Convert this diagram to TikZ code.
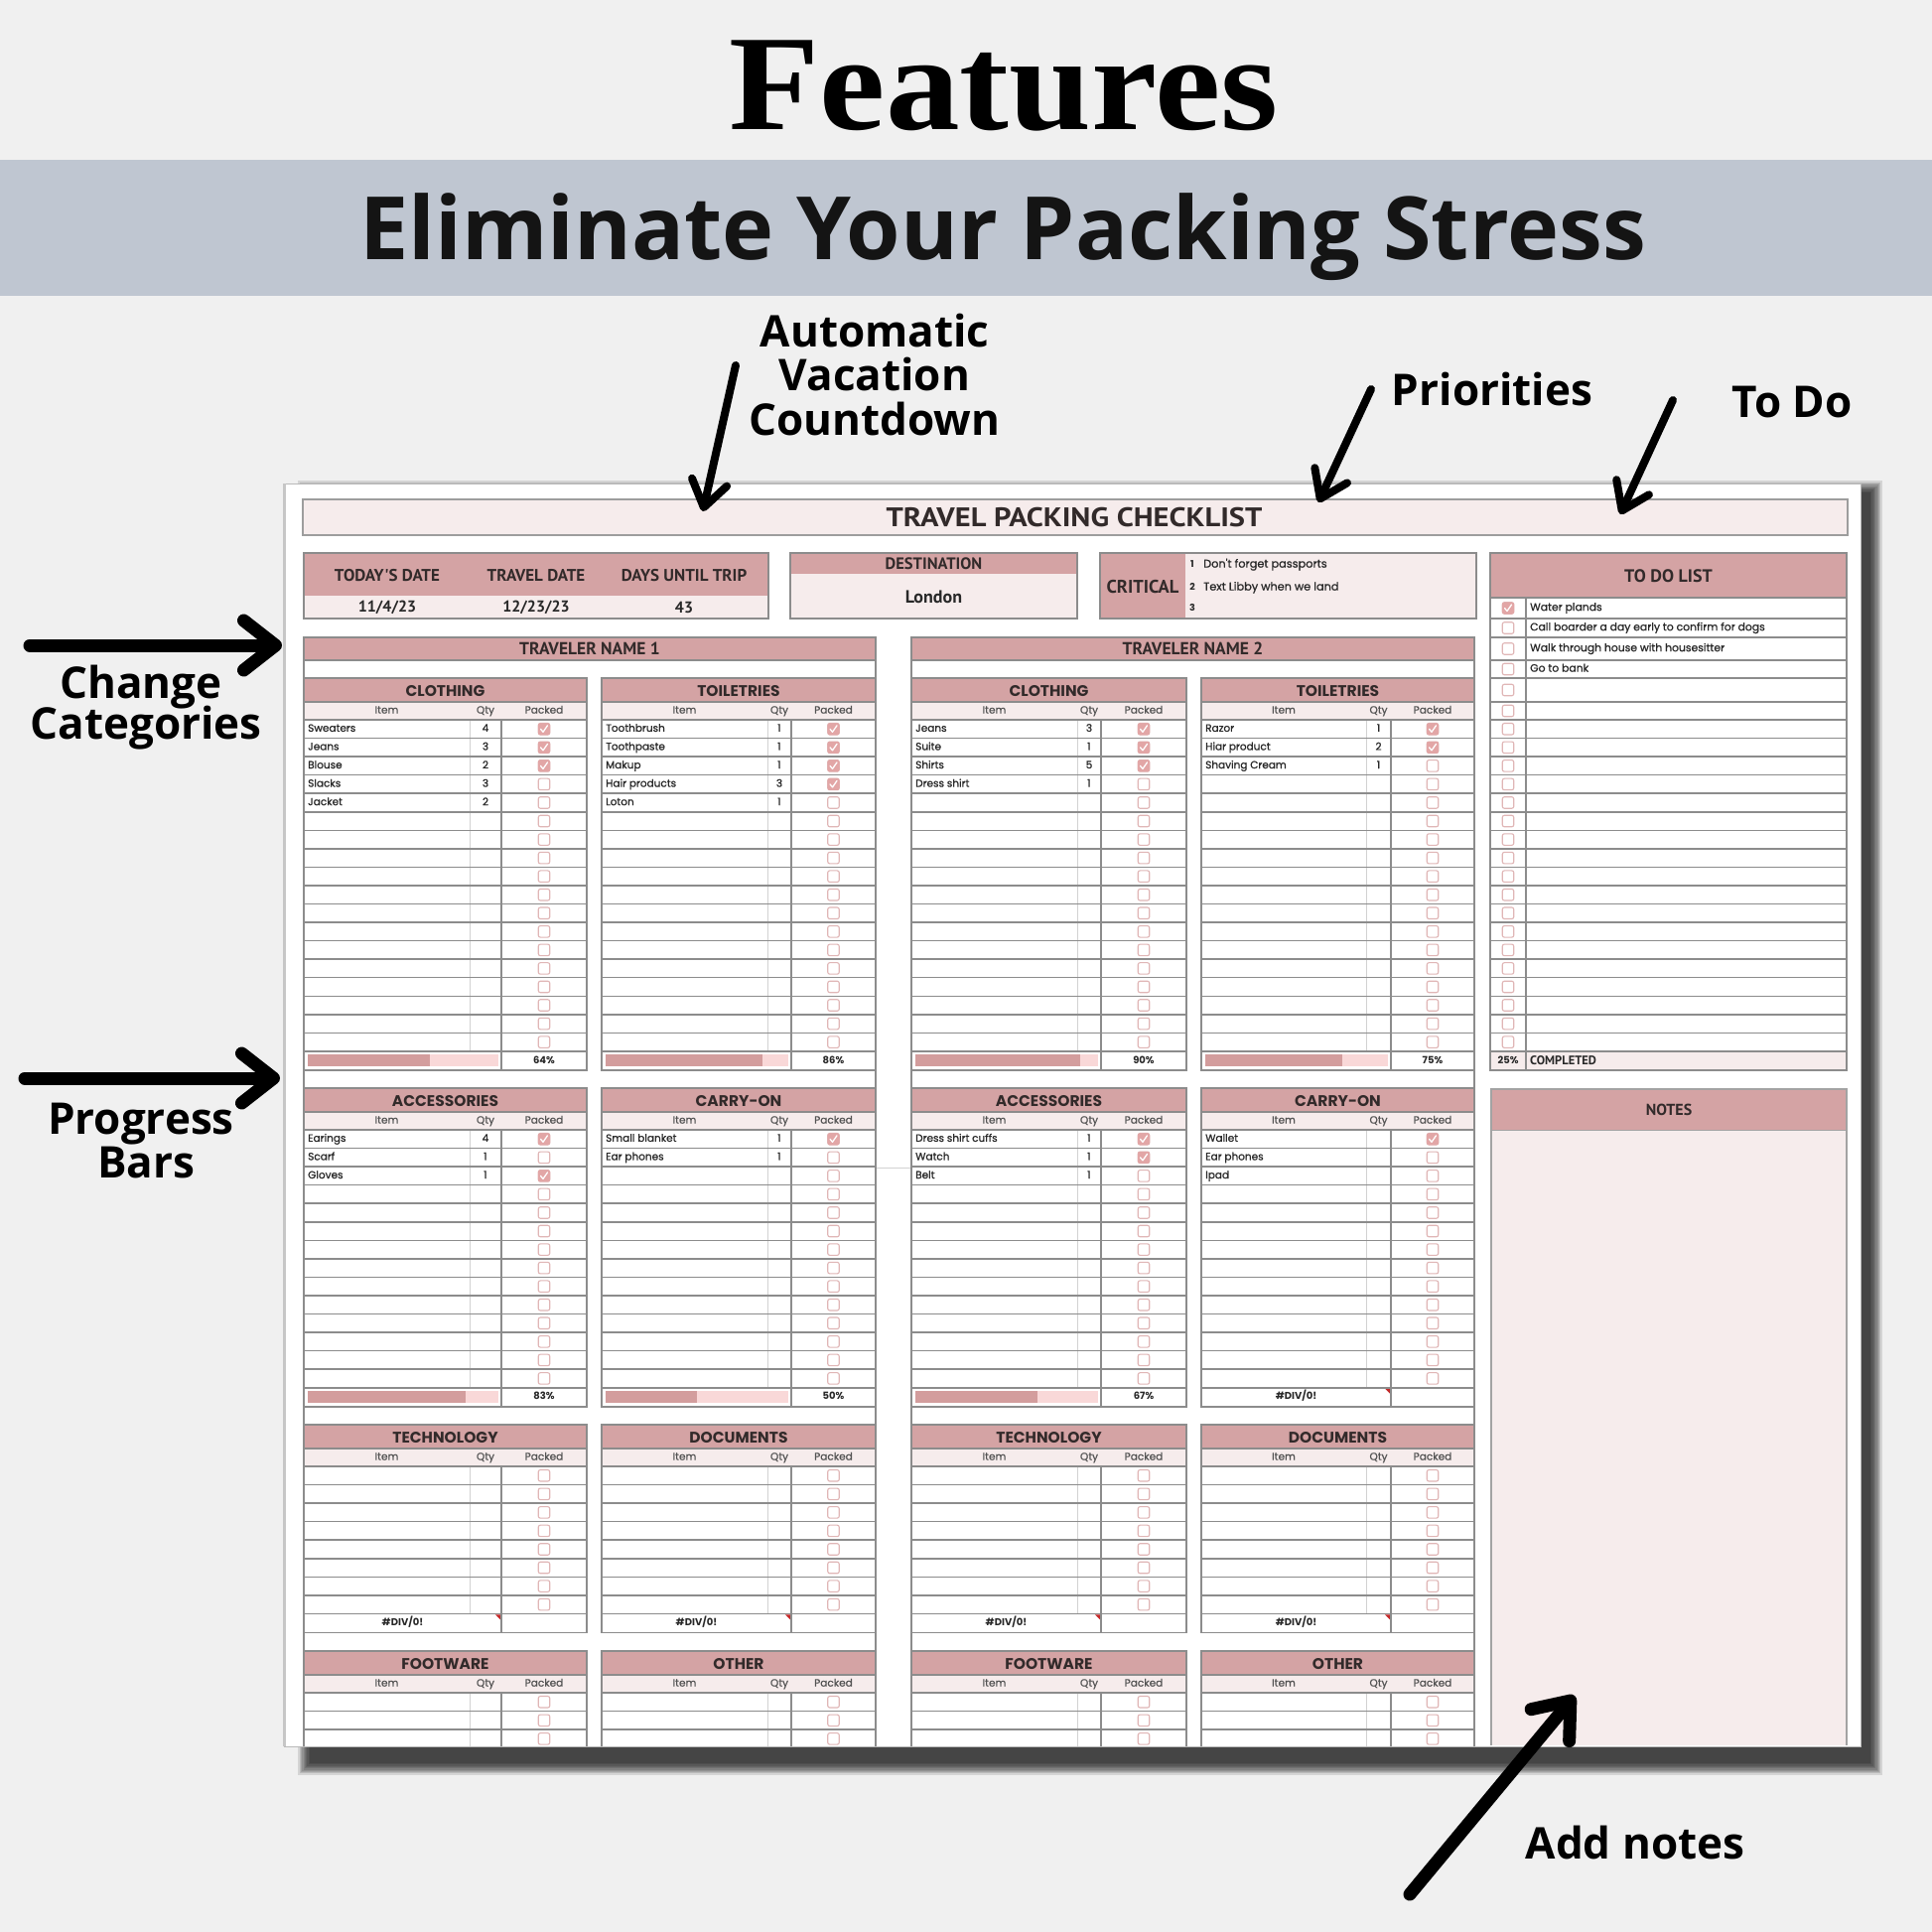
\documentclass[tikz,border=0pt]{standalone}
\usepackage{fontspec}
\usetikzlibrary{arrows.meta}
\newfontfamily\popf{Poppins}
\newfontfamily\popd[FakeBold=0.8]{Poppins}
\newfontfamily\ptf{PT Sans}
\newfontfamily\osf{Open Sans}
\newfontfamily\serf{Liberation Serif}
\newcommand{\myfs}[1]{\fontsize{#1}{#1}\selectfont}
\definecolor{bgc}{RGB}{240,240,240}
\definecolor{bandc}{RGB}{191,198,209}
\definecolor{hdrpink}{RGB}{212,163,164}
\definecolor{ltpink}{RGB}{246,236,236}
\definecolor{barbg}{RGB}{249,216,216}
\definecolor{barfg}{RGB}{211,157,157}
\definecolor{gridc}{RGB}{140,140,140}
\definecolor{gridl}{RGB}{210,210,210}
\definecolor{cbc}{RGB}{224,182,182}
\definecolor{cbfill}{RGB}{226,166,166}
\definecolor{txtc}{RGB}{40,40,40}
\definecolor{hdrtxt}{RGB}{50,42,42}
\definecolor{redc}{RGB}{196,40,40}

\tikzset{
  cathead/.style={font=\popf\bfseries\myfs{15.5}, text=hdrtxt, inner sep=0pt, text height=11pt, text depth=0pt},
  colhead/.style={font=\popd\myfs{10.5}, text=txtc!80, inner sep=0pt, text height=7.5pt, text depth=2.2pt},
  itemtxt/.style={font=\popd\myfs{10.5}, text=txtc, inner sep=0pt, anchor=west, text height=7.5pt, text depth=2.2pt},
  qtytxt/.style={font=\popd\myfs{10.5}, text=txtc, inner sep=0pt, text height=7.5pt, text depth=2.2pt},
  pcttxt/.style={font=\popf\bfseries\myfs{10}, text=txtc, inner sep=0pt, text height=7.5pt, text depth=2.2pt},
  latb/.style={font=\ptf\bfseries\myfs{#1}, text=hdrtxt, inner sep=0pt},
  smalltxt/.style={font=\popd\myfs{10.8}, text=txtc, inner sep=0pt, anchor=west, text height=7.5pt, text depth=2.2pt},
  cbox/.style={draw=cbc, line width=1.1pt, rounded corners=2pt, minimum width=11.5pt, minimum height=11.5pt, inner sep=0pt, fill=white},
  rowline/.style={draw=gridc, line width=1.5pt},
  tabborder/.style={draw=gridc, line width=1.6pt},
  ann/.style={font=\osf\bfseries\myfs{44}, anchor=base, inner sep=0pt, text=black},
  toparrow/.style={line width=8pt, line cap=round, -{Straight Barb[round, length=26pt, width=36pt]}},
  bigarrow/.style={line width=13pt, line cap=round, -{Straight Barb[round, length=32pt, width=50pt]}},
}

% checked box
\newcommand{\chk}[2]{%
  \fill[cbfill, rounded corners=2pt] ({#1-6},{#2-6}) rectangle ({#1+6},{#2+6});
  \draw[white, line width=1.3pt, line cap=round, line join=round] ({#1-3.5},{#2}) -- ({#1-1},{#2+3}) -- ({#1+3.5},{#2-3.5});
}
% \cattab{name}{L}{Q}{P}{R}{top}{title}{nrows}
\newcommand{\cattab}[8]{%
  \pgfmathsetmacro{\yh}{#6+24}%
  \pgfmathsetmacro{\yc}{#6+42}%
  \pgfmathsetmacro{\yr}{#6+42+#8*18.55}%
  \fill[white] (#2,#6) rectangle (#5,\yr);
  \fill[hdrpink] (#2,#6) rectangle (#5,\yh);
  \fill[ltpink] (#2,\yh) rectangle (#5,\yc);
  \node[cathead] (#1-t) at ({(#2+#5)/2},{#6+12.5}) {#7};
  \node[colhead] (#1-ci) at ({(#2+#3)/2},{#6+33}) {Item};
  \node[colhead] (#1-cq) at ({(#3+#4)/2},{#6+33}) {Qty};
  \node[colhead] (#1-cp) at ({(#4+#5)/2},{#6+33}) {Packed};
  \draw[gridl, line width=0.9pt] (#3,\yc) -- (#3,\yr);
  \draw[gridc, line width=1.1pt] (#4,\yc) -- (#4,\yr);
  \draw[rowline] (#2,\yh) -- (#5,\yh);
  \foreach \k in {0,...,#8} {\draw[rowline] (#2,{\yc+\k*18.55}) -- (#5,{\yc+\k*18.55});}
  \foreach \k in {1,...,#8} {\node[cbox] (#1-b\k) at ({(#4+#5)/2},{\yc+(\k-0.5)*18.55}) {};}
  \draw[tabborder] (#2,#6) rectangle (#5,\yr);
}
% \tabdata{name}{L}{Q}{P}{R}{top}{data}
\newcommand{\tabdata}[7]{%
  \pgfmathsetmacro{\yc}{#6+42}%
  \foreach \itm/\qq/\ck [count=\k] in {#7} {
    \node[itemtxt] (#1-i\k) at ({#2+4},{\yc+(\k-0.5)*18.55}) {\itm};
    \node[qtytxt] (#1-q\k) at ({(#3+#4)/2},{\yc+(\k-0.5)*18.55}) {\qq};
    \ifnum\ck=1 \chk{(#4+#5)/2}{\yc+(\k-0.5)*18.55}\fi
  }
}
% \progfoot{name}{L}{P}{R}{y}{pct}
\newcommand{\progfoot}[6]{%
  \fill[white] (#2,#5) rectangle (#4,{#5+19});
  \fill[barbg] ({#2+4},{#5+3.5}) rectangle ({#3-3},{#5+15.5});
  \fill[barfg] ({#2+4},{#5+3.5}) rectangle ({#2+4+#6/100*(#3-3-#2-4)},{#5+15.5});
  \draw[gridc, line width=1.1pt] (#3,#5) -- (#3,{#5+19});
  \node[pcttxt] (#1) at ({(#3+#4)/2},{#5+9.5}) {#6\%};
  \draw[tabborder] (#2,#5) rectangle (#4,{#5+19});
}
% \divfoot{name}{L}{P}{R}{y}
\newcommand{\divfoot}[5]{%
  \fill[white] (#2,#5) rectangle (#4,{#5+19});
  \node[pcttxt] (#1) at ({(#2+#3)/2},{#5+9.5}) {\#DIV/0!};
  \fill[redc] ({#3-6},{#5+1}) -- ({#3-1},{#5+1}) -- ({#3-1},{#5+6}) -- cycle;
  \draw[gridc, line width=1.1pt] (#3,#5) -- (#3,{#5+19});
  \draw[tabborder] (#2,#5) rectangle (#4,{#5+19});
}

\begin{document}
\begin{tikzpicture}[x=1pt,y=-1pt]
\useasboundingbox (0,0) rectangle (1946,1946);
\fill[bgc] (0,0) rectangle (1946,1946);
\fill[bandc] (0,161) rectangle (1946,298);

\node[font=\serf\bfseries\myfs{137}, anchor=base, inner sep=0pt] (feat) at (1011,130) {\scalebox{1.09}[1]{Features}};
\node[font=\osf\bfseries\myfs{88}, anchor=base, inner sep=0pt, text=black!92] (sub) at (1010,261) {Eliminate Your Packing Stress};

% shadow
\foreach \i in {0,...,9} {
  \fill[black, opacity=0.115] ({312-\i*1.3},{496-\i*1.3}) rectangle ({1884+\i*1.3},{1776+\i*1.3});
}
% paper
\fill[white] (286,487) rectangle (1874,1759);
\draw[gray!55, line width=1pt] (286,487) rectangle (1874,1759);
\draw[gray!45, line width=3pt] (286,487) -- (286,1759);

% title bar
\fill[ltpink] (305,503) rectangle (1861,539);
\draw[gridc!85, line width=1.5pt] (305,503) rectangle (1861,539);
\node[latb=27] (title) at (1082,521) {\scalebox{1.13}[1]{TRAVEL PACKING CHECKLIST}};

% dates box
\fill[hdrpink] (306,557) rectangle (774,600);
\fill[ltpink] (306,600) rectangle (774,623);
\draw[tabborder] (306,557) rectangle (774,623);
\node[latb=17] (td) at (390,580) {TODAY'S DATE};
\node[latb=17] (tv) at (540,580) {TRAVEL DATE};
\node[latb=17] (du) at (689,580) {DAYS UNTIL TRIP};
\node[latb=16, text=txtc] (tdv) at (390,612) {11/4/23};
\node[latb=16, text=txtc] (tvv) at (540,612) {12/23/23};
\node[latb=16, text=txtc] (duv) at (689,612) {43};

% destination
\fill[ltpink] (796,557) rectangle (1085,623);
\fill[hdrpink] (796,557) rectangle (1085,578);
\draw[tabborder] (796,557) rectangle (1085,623);
\node[latb=16.5] (dest) at (940.5,567.5) {DESTINATION};
\node[latb=18, text=txtc] (lon) at (940.5,601) {London};

% critical
\fill[ltpink] (1108,557) rectangle (1487,623);
\fill[hdrpink] (1108,557) rectangle (1194,623);
\draw[tabborder] (1108,557) rectangle (1487,623);
\node[latb=18.5] (crit) at (1151,591) {CRITICAL};
\node[font=\popf\bfseries\myfs{9.5}, text=txtc, inner sep=0pt] (c1n) at (1201,568) {1};
\node[font=\popf\bfseries\myfs{9.5}, text=txtc, inner sep=0pt] (c2n) at (1201,591) {2};
\node[font=\popf\bfseries\myfs{9.5}, text=txtc, inner sep=0pt] (c3n) at (1201,612) {3};
\node[smalltxt, font=\popd\myfs{11.3}] (c1) at (1212,569) {Don't forget passports};
\node[smalltxt, font=\popd\myfs{11.3}] (c2) at (1212,592) {Text Libby when we land};

% traveler panels
\fill[hdrpink] (306,642) rectangle (882,665);
\draw[tabborder] (306,1758) -- (306,642) -- (882,642) -- (882,1758);
\draw[rowline] (306,665) -- (882,665);
\node[latb=17.5] (tn1) at (594,653.5) {TRAVELER NAME 1};
\fill[hdrpink] (918,642) rectangle (1485,665);
\draw[tabborder] (918,1758) -- (918,642) -- (1485,642) -- (1485,1758);
\draw[rowline] (918,665) -- (1485,665);
\node[latb=17.5] (tn2) at (1201.5,653.5) {TRAVELER NAME 2};
\draw[gridl, line width=0.8pt] (882,1176) -- (918,1176);

% block 1
\cattab{aa}{306}{473}{505}{591}{683}{CLOTHING}{18}
\tabdata{aa}{306}{473}{505}{591}{683}{Sweaters/4/1,Jeans/3/1,Blouse/2/1,Slacks/3/0,Jacket/2/0}
\progfoot{aaf}{306}{505}{591}{1058.9}{64}
\cattab{ab}{606}{773}{797}{882}{683}{TOILETRIES}{18}
\tabdata{ab}{606}{773}{797}{882}{683}{Toothbrush/1/1,Toothpaste/1/1,Makup/1/1,Hair products/3/1,Loton/1/0}
\progfoot{abf}{606}{797}{882}{1058.9}{86}
\cattab{ac}{918}{1085}{1109}{1195}{683}{CLOTHING}{18}
\tabdata{ac}{918}{1085}{1109}{1195}{683}{Jeans/3/1,Suite/1/1,Shirts/5/1,Dress shirt/1/0}
\progfoot{acf}{918}{1109}{1195}{1058.9}{90}
\cattab{ad}{1210}{1376}{1401}{1485}{683}{TOILETRIES}{18}
\tabdata{ad}{1210}{1376}{1401}{1485}{683}{Razor/1/1,Hiar product/2/1,Shaving Cream/1/0}
\progfoot{adf}{1210}{1401}{1485}{1058.9}{75}

% block 2
\cattab{ba}{306}{473}{505}{591}{1096}{ACCESSORIES}{14}
\tabdata{ba}{306}{473}{505}{591}{1096}{Earings/4/1,Scarf/1/0,Gloves/1/1}
\progfoot{baf}{306}{505}{591}{1397.7}{83}
\cattab{bb}{606}{773}{797}{882}{1096}{CARRY-ON}{14}
\tabdata{bb}{606}{773}{797}{882}{1096}{Small blanket/1/1,Ear phones/1/0}
\progfoot{bbf}{606}{797}{882}{1397.7}{50}
\cattab{bc}{918}{1085}{1109}{1195}{1096}{ACCESSORIES}{14}
\tabdata{bc}{918}{1085}{1109}{1195}{1096}{Dress shirt cuffs/1/1,Watch/1/1,Belt/1/0}
\progfoot{bcf}{918}{1109}{1195}{1397.7}{67}
\cattab{bd}{1210}{1376}{1401}{1485}{1096}{CARRY-ON}{14}
\tabdata{bd}{1210}{1376}{1401}{1485}{1096}{Wallet/{}/1,Ear phones/{}/0,Ipad/{}/0}
\divfoot{bdf}{1210}{1401}{1485}{1397.7}

% block 3
\cattab{ca}{306}{473}{505}{591}{1435}{TECHNOLOGY}{8}
\divfoot{caf}{306}{505}{591}{1625.4}
\cattab{cb}{606}{773}{797}{882}{1435}{DOCUMENTS}{8}
\divfoot{cbf}{606}{797}{882}{1625.4}
\cattab{cc}{918}{1085}{1109}{1195}{1435}{TECHNOLOGY}{8}
\divfoot{ccf}{918}{1109}{1195}{1625.4}
\cattab{cd}{1210}{1376}{1401}{1485}{1435}{DOCUMENTS}{8}
\divfoot{cdf}{1210}{1401}{1485}{1625.4}

% block 4 (cut by the page edge)
\begin{scope}
\clip (280,1600) rectangle (1880,1758);
\cattab{da}{306}{473}{505}{591}{1663}{FOOTWARE}{3}
\cattab{db}{606}{773}{797}{882}{1663}{OTHER}{3}
\cattab{dc}{918}{1085}{1109}{1195}{1663}{FOOTWARE}{3}
\cattab{dd}{1210}{1376}{1401}{1485}{1663}{OTHER}{3}
\end{scope}

% to do list
\fill[white] (1501,557) rectangle (1860,1078);
\fill[hdrpink] (1501,557) rectangle (1860,602);
\fill[ltpink] (1501,1059) rectangle (1860,1078);
\node[latb=18] (todoh) at (1680.5,580) {TO DO LIST};
\foreach \y in {602,623,642,665,683,707,725} {\draw[rowline] (1501,\y) -- (1860,\y);}
\foreach \k in {1,...,18} {\draw[rowline] (1501,{725+\k*18.55}) -- (1860,{725+\k*18.55});}
\draw[gridc, line width=1.1pt] (1537,602) -- (1537,1078);
\foreach \y [count=\n] in {612.5,632.5,653.5,674,695,716} {\node[cbox] (tda\n) at (1519,\y) {};}
\foreach \k in {1,...,18} {\node[cbox] (tdb\k) at (1519,{725+(\k-0.5)*18.55}) {};}
\chk{1519}{612.5}
\node[smalltxt] (t1) at (1541,612.5) {Water plands};
\node[smalltxt] (t2) at (1541,632.5) {Call boarder a day early to confirm for dogs};
\node[smalltxt] (t3) at (1541,653.5) {Walk through house with housesitter};
\node[smalltxt] (t4) at (1541,674) {Go to bank};
\node[pcttxt] (pc) at (1519,1068.5) {25\%};
\node[font=\ptf\bfseries\myfs{12.5}, text=txtc, inner sep=0pt, anchor=west] (comp) at (1541,1068.5) {COMPLETED};
\draw[tabborder] (1501,557) rectangle (1860,1078);

% notes
\fill[ltpink] (1502,1097) rectangle (1860,1758);
\fill[hdrpink] (1502,1097) rectangle (1860,1138);
\node[latb=16] (notes) at (1681,1118) {NOTES};
\draw[gridc!80, line width=1.3pt] (1502,1758) -- (1502,1097) -- (1860,1097) -- (1860,1758);
\draw[gridc!80, line width=1pt] (1502,1138) -- (1860,1138);

% annotations
\node[ann] (a1a) at (881,349) {Automatic};
\node[ann] (a1b) at (881,393) {Vacation};
\node[ann] (a1c) at (881,438) {Countdown};
\node[ann] (a2) at (1503,408) {Priorities};
\node[ann] (a3) at (1805,420) {To Do};
\node[ann] (a4a) at (142,703) {Change};
\node[ann] (a4b) at (147,744) {Categories};
\node[ann] (a5a) at (142,1142) {Progress};
\node[ann] (a5b) at (147,1186) {Bars};
\node[ann] (a6) at (1647,1872) {Add notes};

\coordinate (s1) at (741,368); \coordinate (e1) at (708,515);
\coordinate (s2) at (1381,392); \coordinate (e2) at (1328,506);
\coordinate (s3) at (1685,403); \coordinate (e3) at (1632,518);
\coordinate (s4) at (30,650); \coordinate (e4) at (284,650);
\coordinate (s5) at (25,1086); \coordinate (e5) at (282,1086);
\coordinate (s6) at (1420,1908); \coordinate (e6) at (1586,1708);
\draw[toparrow] (s1) -- (e1);
\draw[toparrow] (s2) -- (e2);
\draw[toparrow] (s3) -- (e3);
\draw[bigarrow] (s4) -- (e4);
\draw[bigarrow] (s5) -- (e5);
\draw[bigarrow] (s6) -- (e6);
\end{tikzpicture}
\end{document}
